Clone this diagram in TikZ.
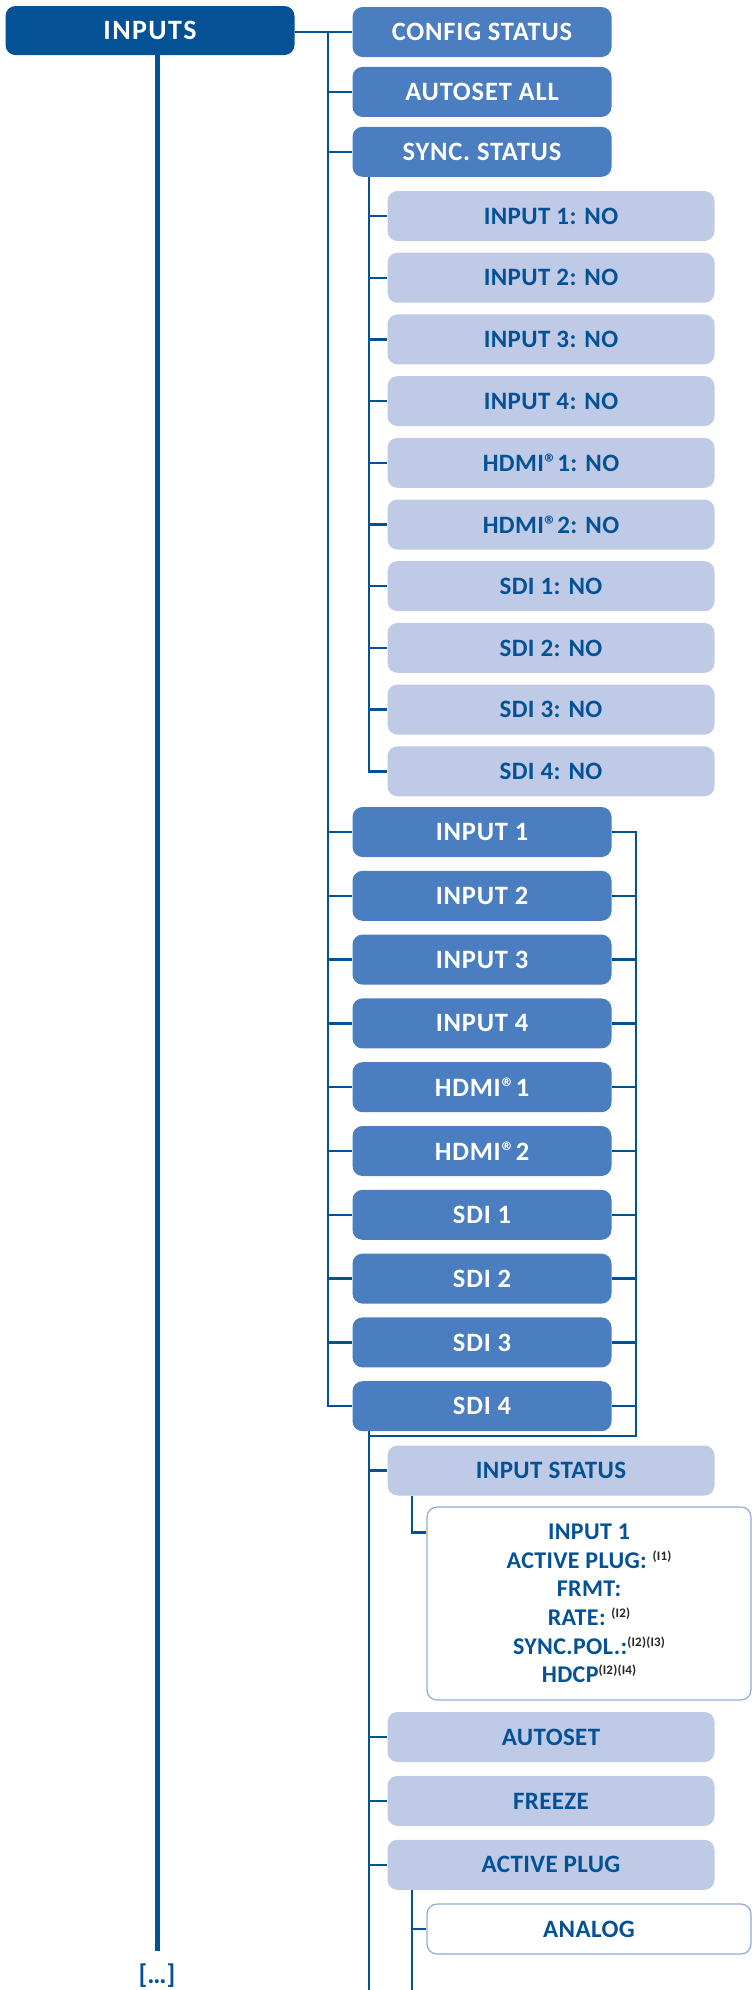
\documentclass[tikz,border=0pt]{standalone}
\usepackage{fontspec}
\setmainfont{Carlito}
\usepackage{xcolor,tikz}
\usetikzlibrary{positioning,calc}
\definecolor{dkblue}{RGB}{4,81,150}
\definecolor{mdblue}{RGB}{74,126,193}
\definecolor{ltblue}{RGB}{191,202,231}
\definecolor{wbord}{RGB}{143,170,220}
\newcommand\fnote[1]{\raisebox{8pt}{\fontsize{13}{13}\selectfont\color{black!85}#1}}

\begin{document}
\begin{tikzpicture}[x=1pt,y=-1pt,box/.style={rounded corners=10pt,minimum height=50pt,inner sep=0pt,align=center,font=\bfseries\fontsize{25}{30}\selectfont\addfontfeatures{LetterSpace=1.5}},top/.style={box,fill=dkblue,text=white,minimum width=289pt,minimum height=49pt,font=\bfseries\fontsize{28}{30}\selectfont\addfontfeatures{LetterSpace=5}},mid/.style={box,fill=mdblue,text=white,minimum width=259pt,font=\bfseries\fontsize{26.5}{30}\selectfont\addfontfeatures{LetterSpace=3}},sub/.style={box,fill=ltblue,text=dkblue,minimum width=327pt},leaf/.style={box,draw=wbord,line width=1.2pt,fill=white,text=dkblue,minimum width=324pt},ln/.style={dkblue,line width=2.4pt},trunk/.style={dkblue,line width=5pt}]
\useasboundingbox (0,0) rectangle (752,1990);
\node[top] (inp) at (150,30.5) {INPUTS};
\node[mid] (cfg) at (482,32) {CONFIG STATUS};
\node[mid,below=9.5pt of cfg] (aset) {AUTOSET ALL};
\node[mid,below=9.5pt of aset] (sync) {SYNC. STATUS};
\node[sub] (s1) at (551,216) {INPUT 1: NO};
\node[sub,below=11.3pt of s1] (s2) {INPUT 2: NO};
\node[sub,below=11.3pt of s2] (s3) {INPUT 3: NO};
\node[sub,below=11.3pt of s3] (s4) {INPUT 4: NO};
\node[sub,below=11.3pt of s4] (s5) {HDMI®1: NO};
\node[sub,below=11.3pt of s5] (s6) {HDMI®2: NO};
\node[sub,below=11.3pt of s6] (s7) {SDI 1: NO};
\node[sub,below=11.3pt of s7] (s8) {SDI 2: NO};
\node[sub,below=11.3pt of s8] (s9) {SDI 3: NO};
\node[sub,below=11.3pt of s9] (s10) {SDI 4: NO};
\node[mid] (in1) at (482,832) {INPUT 1};
\node[mid,below=13.4pt of in1] (in2) {INPUT 2};
\node[mid,below=13.4pt of in2] (in3) {INPUT 3};
\node[mid,below=13.4pt of in3] (in4) {INPUT 4};
\node[mid,below=13.4pt of in4] (hd1) {HDMI®1};
\node[mid,below=13.4pt of hd1] (hd2) {HDMI®2};
\node[mid,below=13.4pt of hd2] (sdi1) {SDI 1};
\node[mid,below=13.4pt of sdi1] (sdi2) {SDI 2};
\node[mid,below=13.4pt of sdi2] (sdi3) {SDI 3};
\node[mid,below=13.4pt of sdi3] (sdi4) {SDI 4};
\node[sub] (ist) at (551,1470.5) {INPUT STATUS};
\node[leaf,minimum height=193pt,font=\bfseries\fontsize{24}{28.7}\selectfont\addfontfeatures{LetterSpace=1.5}] (stat) at (589,1603.5) {INPUT 1\\ACTIVE PLUG: \fnote{(I1)}\\FRMT:\\RATE: \fnote{(I2)}\\SYNC.POL.:\fnote{(I2)(I3)}\\HDCP\fnote{(I2)(I4)}};
\node[sub] (aut) at (551,1737) {AUTOSET};
\node[sub,below=13.5pt of aut] (frz) {FREEZE};
\node[sub,below=13.5pt of frz] (apl) {ACTIVE PLUG};
\node[leaf] (ana) at (589,1929) {ANALOG};
\node[inner sep=0pt,text=dkblue,font=\bfseries\fontsize{27}{30}\selectfont] (more) at (157,1976) {[…]};
\coordinate (t0) at (328,0);\coordinate (t1) at (369,0);\coordinate (t2) at (636,0);\coordinate (t3) at (412,0);\coordinate (jn) at (369,1436);
\draw[trunk] (inp.south-|more) -- ([yshift=13pt]more.north);
\draw[ln] (inp.east|-cfg.west) -- (cfg.west);\draw[ln] (cfg.west-|t0) |- (sdi4.west);
\draw[ln] (aset.west-|t0)--(aset.west);\draw[ln] (sync.west-|t0)--(sync.west);
\draw[ln] (in1.west-|t0)--(in1.west);\draw[ln] (in2.west-|t0)--(in2.west);\draw[ln] (in3.west-|t0)--(in3.west);
\draw[ln] (in4.west-|t0)--(in4.west);\draw[ln] (hd1.west-|t0)--(hd1.west);\draw[ln] (hd2.west-|t0)--(hd2.west);
\draw[ln] (sdi1.west-|t0)--(sdi1.west);\draw[ln] (sdi2.west-|t0)--(sdi2.west);\draw[ln] (sdi3.west-|t0)--(sdi3.west);
\draw[ln] (sync.south-|t1) |- (s10.west);
\draw[ln] (s1.west-|t1)--(s1.west);\draw[ln] (s2.west-|t1)--(s2.west);\draw[ln] (s3.west-|t1)--(s3.west);
\draw[ln] (s4.west-|t1)--(s4.west);\draw[ln] (s5.west-|t1)--(s5.west);\draw[ln] (s6.west-|t1)--(s6.west);
\draw[ln] (s7.west-|t1)--(s7.west);\draw[ln] (s8.west-|t1)--(s8.west);\draw[ln] (s9.west-|t1)--(s9.west);
\draw[ln] (in1.east) -| (jn-|t2) -- (jn);
\draw[ln] (in2.east)--(in2.east-|t2);\draw[ln] (in3.east)--(in3.east-|t2);\draw[ln] (in4.east)--(in4.east-|t2);
\draw[ln] (hd1.east)--(hd1.east-|t2);\draw[ln] (hd2.east)--(hd2.east-|t2);\draw[ln] (sdi1.east)--(sdi1.east-|t2);
\draw[ln] (sdi2.east)--(sdi2.east-|t2);\draw[ln] (sdi3.east)--(sdi3.east-|t2);\draw[ln] (sdi4.east)--(sdi4.east-|t2);
\draw[ln] (sdi4.south-|t1) -- ++(0,600);
\draw[ln] (ist.west-|t1)--(ist.west);\draw[ln] (aut.west-|t1)--(aut.west);\draw[ln] (frz.west-|t1)--(frz.west);\draw[ln] (apl.west-|t1)--(apl.west);
\draw[ln] (ist.south-|t3) |- ([yshift=-26pt]stat.north west);
\draw[ln] (apl.south-|t3) -- ++(0,120);\draw[ln] (ana.west-|t3)--(ana.west);
\end{tikzpicture}
\end{document}
